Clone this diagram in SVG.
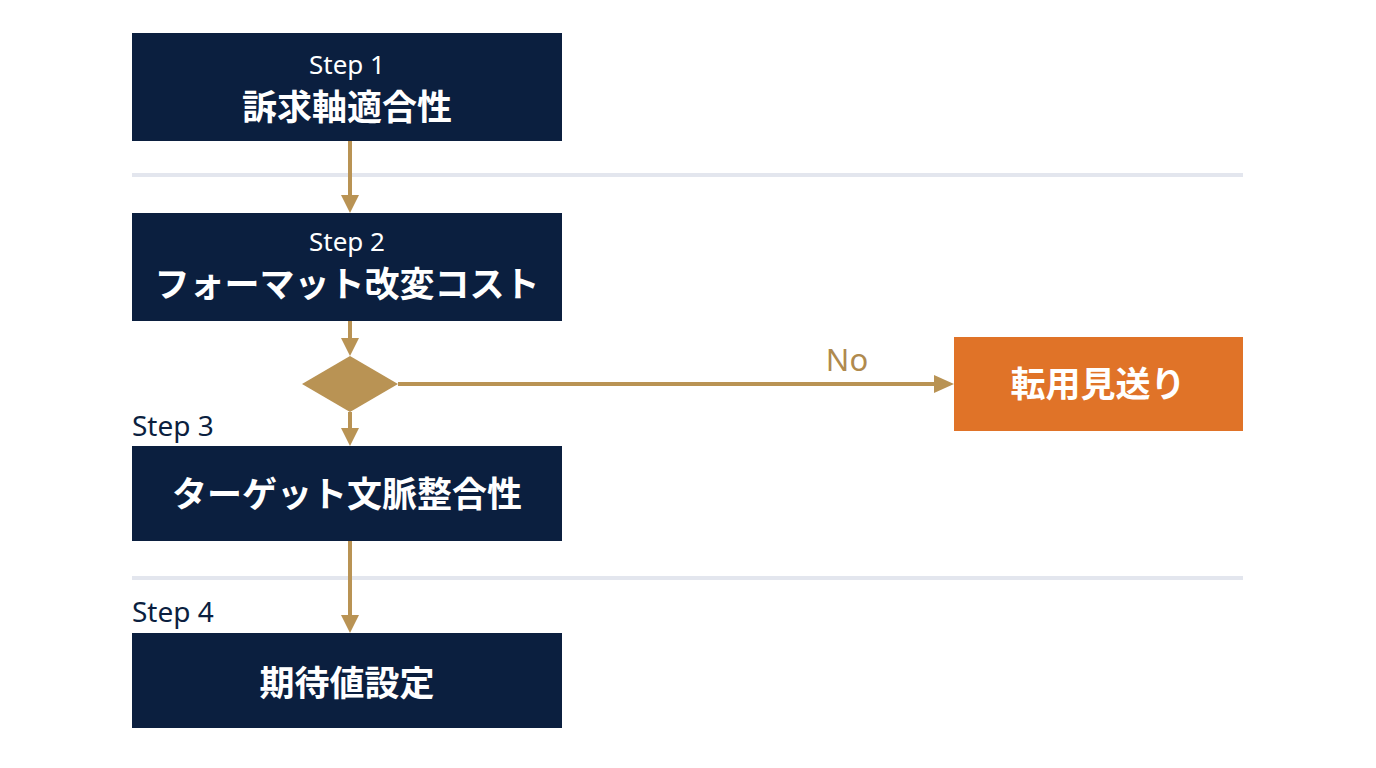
<svg xmlns="http://www.w3.org/2000/svg" width="1376" height="768" viewBox="0 0 1376 768">
<defs>
<style>
.box{fill:#0b1f3f}
.alt{fill:#e07328}
.sep{stroke:#e3e6ee;stroke-width:4}
.con{stroke:#b99354;stroke-width:4;fill:none}
.head{fill:#b99354}
.main{font-family:"Noto Sans CJK JP","Noto Sans",sans-serif;font-weight:700;font-size:35px;fill:#ffffff;text-anchor:middle}
.step{font-family:"Noto Sans","Noto Sans CJK JP",sans-serif;font-size:26px;fill:#ffffff;text-anchor:middle}
.lbl{font-family:"Noto Sans","Noto Sans CJK JP",sans-serif;font-size:28px;fill:#0b1f3f}
.no{font-family:"Noto Sans",sans-serif;font-size:31px;fill:#b08a4e;text-anchor:middle}
</style>
</defs>
<rect width="1376" height="768" fill="#ffffff"/>
<g id="separators">
<line class="sep" x1="132" y1="175" x2="1243" y2="175"/>
<line class="sep" x1="132" y1="578" x2="1243" y2="578"/>
</g>
<g id="connectors">
<line class="con" x1="350" y1="141" x2="350" y2="197"/>
<polygon class="head" points="341,195 359,195 350,213"/>
<line class="con" x1="350" y1="321" x2="350" y2="340"/>
<polygon class="head" points="341,338 359,338 350,356"/>
<line class="con" x1="350" y1="412" x2="350" y2="430"/>
<polygon class="head" points="341,428 359,428 350,446"/>
<line class="con" x1="350" y1="541" x2="350" y2="617"/>
<polygon class="head" points="341,615 359,615 350,633"/>
<line class="con" x1="398" y1="384" x2="936" y2="384"/>
<polygon class="head" points="934,375 934,393 954,384"/>
<text class="no" x="847" y="371">No</text>
</g>
<g id="step1">
<rect class="box" x="132" y="33" width="430" height="108"/>
<text class="step" x="347" y="74">Step 1</text>
<text class="main" x="347" y="120">訴求軸適合性</text>
</g>
<g id="step2">
<rect class="box" x="132" y="213" width="430" height="108"/>
<text class="step" x="347" y="251">Step 2</text>
<text class="main" x="347" y="297">フォーマット改変コスト</text>
</g>
<g id="decision">
<polygon class="head" points="350,356 398,384 350,412 302,384"/>
</g>
<g id="step3">
<text class="lbl" x="132" y="436">Step 3</text>
<rect class="box" x="132" y="446" width="430" height="95"/>
<text class="main" x="347" y="507">ターゲット文脈整合性</text>
</g>
<g id="step4">
<text class="lbl" x="132" y="622">Step 4</text>
<rect class="box" x="132" y="633" width="430" height="95"/>
<text class="main" x="347" y="696">期待値設定</text>
</g>
<g id="reject">
<rect class="alt" x="954" y="337" width="289" height="94"/>
<text class="main" x="1098" y="397">転用見送り</text>
</g>
</svg>
